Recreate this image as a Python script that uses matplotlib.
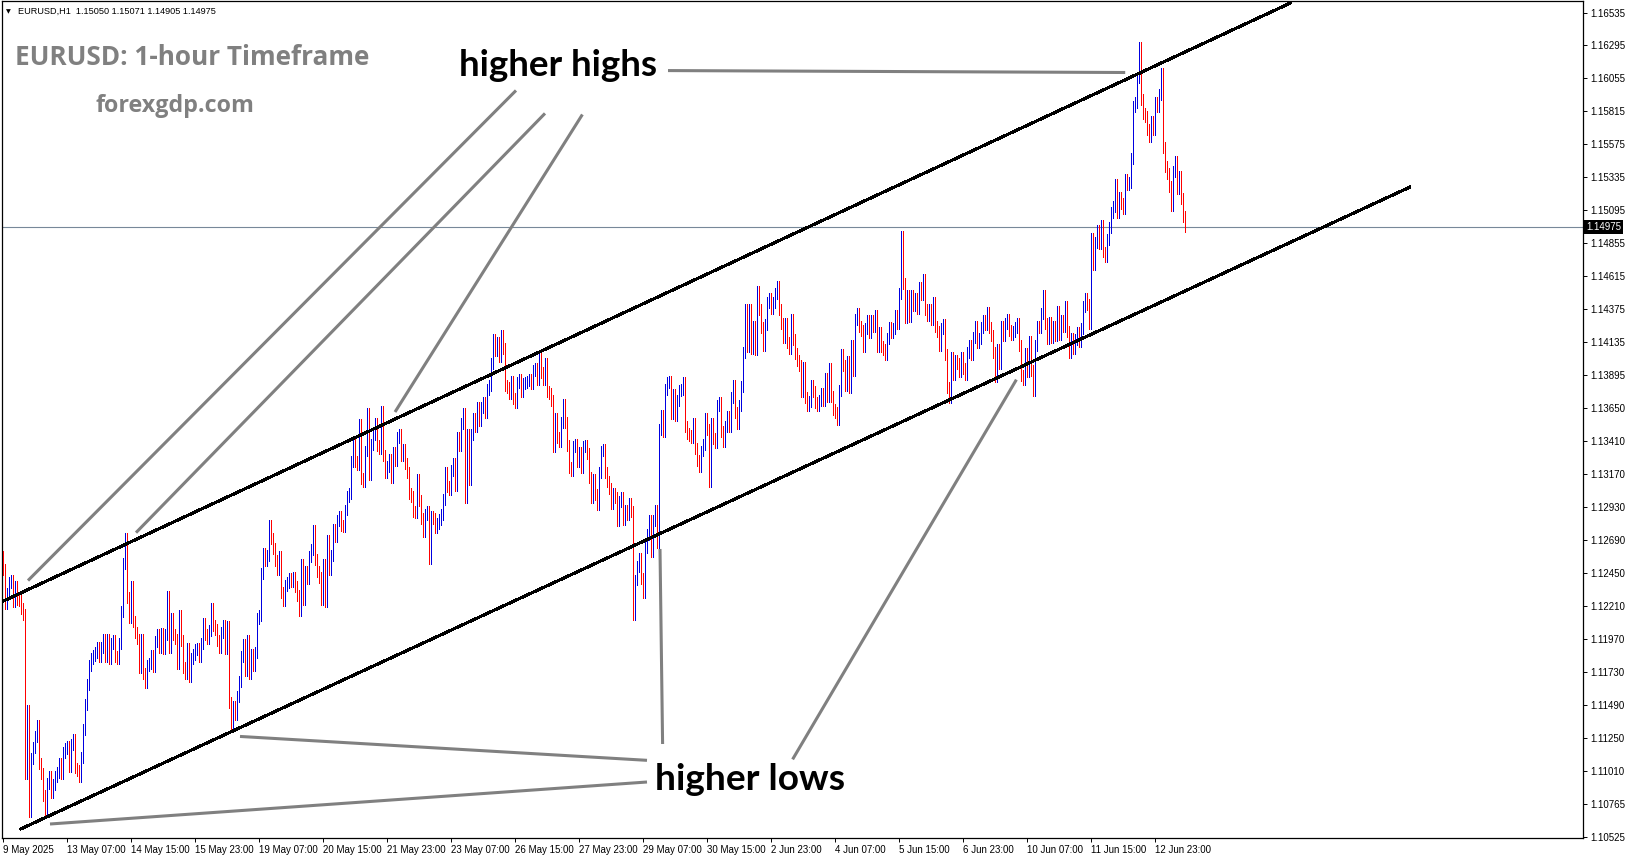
import numpy as np
import matplotlib
matplotlib.use('Agg')
import matplotlib.pyplot as plt
import matplotlib.transforms as mtransforms

# ── EURUSD H1 CLOSES (one list per trading day) ──
first_open = 1.1257
may09 = [1.1248]
may12 = [1.1223, 1.1230, 1.1238, 1.1240, 1.1224, 1.1235, 1.1226, 1.1225, 1.1219, 1.1215, 1.1099, 1.1145,
         1.1071, 1.1110, 1.1118, 1.1126, 1.1134, 1.1106, 1.1099, 1.1083, 1.1072, 1.1092, 1.1097, 1.1085]
may13 = [1.1091, 1.1097, 1.1100, 1.1106, 1.1099, 1.1114, 1.1117, 1.1119, 1.1104, 1.1120, 1.1124, 1.1103,
         1.1101, 1.1097, 1.1111, 1.1131, 1.1149, 1.1164, 1.1178, 1.1183, 1.1185, 1.1187, 1.1191, 1.1184]
may14 = [1.1191, 1.1197, 1.1184, 1.1197, 1.1183, 1.1194, 1.1196, 1.1184, 1.1183, 1.1194, 1.1217, 1.1252,
         1.1270, 1.1227, 1.1213, 1.1235, 1.1210, 1.1202, 1.1197, 1.1176, 1.1197, 1.1172, 1.1165, 1.1178]
may15 = [1.1179, 1.1185, 1.1177, 1.1195, 1.1200, 1.1191, 1.1201, 1.1190, 1.1200, 1.1228, 1.1191, 1.1212,
         1.1200, 1.1197, 1.1179, 1.1214, 1.1196, 1.1176, 1.1172, 1.1190, 1.1170, 1.1183, 1.1186, 1.1189]
may16 = [1.1190, 1.1184, 1.1194, 1.1208, 1.1200, 1.1197, 1.1203, 1.1219, 1.1207, 1.1204, 1.1196, 1.1191,
         1.1202, 1.1207, 1.1190, 1.1206, 1.1151, 1.1134, 1.1148, 1.1142, 1.1155, 1.1166, 1.1184, 1.1193]
may19 = [1.1174, 1.1196, 1.1172, 1.1186, 1.1178, 1.1187, 1.1212, 1.1214, 1.1245, 1.1259, 1.1254, 1.1258,
         1.1280, 1.1270, 1.1263, 1.1254, 1.1248, 1.1257, 1.1231, 1.1225, 1.1236, 1.1238, 1.1241, 1.1239]
may20 = [1.1242, 1.1235, 1.1229, 1.1218, 1.1251, 1.1226, 1.1246, 1.1241, 1.1257, 1.1262, 1.1276, 1.1255,
         1.1246, 1.1242, 1.1226, 1.1251, 1.1224, 1.1269, 1.1248, 1.1258, 1.1277, 1.1272, 1.1283, 1.1286]
may21 = [1.1280, 1.1279, 1.1291, 1.1301, 1.1303, 1.1326, 1.1340, 1.1326, 1.1324, 1.1353, 1.1314, 1.1312,
         1.1334, 1.1361, 1.1317, 1.1339, 1.1346, 1.1354, 1.1338, 1.1336, 1.1363, 1.1331, 1.1318, 1.1323]
may22 = [1.1328, 1.1315, 1.1333, 1.1327, 1.1344, 1.1346, 1.1331, 1.1335, 1.1325, 1.1318, 1.1303, 1.1301,
         1.1290, 1.1289, 1.1313, 1.1298, 1.1285, 1.1275, 1.1288, 1.1290, 1.1256, 1.1286, 1.1285, 1.1278]
may23 = [1.1281, 1.1284, 1.1288, 1.1299, 1.1318, 1.1308, 1.1306, 1.1320, 1.1325, 1.1309, 1.1344, 1.1338,
         1.1354, 1.1361, 1.1300, 1.1346, 1.1313, 1.1346, 1.1358, 1.1352, 1.1366, 1.1356, 1.1366, 1.1369]
may26 = [1.1362, 1.1379, 1.1382, 1.1398, 1.1415, 1.1407, 1.1413, 1.1403, 1.1418, 1.1409, 1.1382, 1.1380,
         1.1376, 1.1385, 1.1372, 1.1369, 1.1384, 1.1386, 1.1377, 1.1383, 1.1384, 1.1385, 1.1386, 1.1383]
may27 = [1.1393, 1.1394, 1.1386, 1.1403, 1.1391, 1.1386, 1.1398, 1.1377, 1.1376, 1.1371, 1.1337, 1.1358,
         1.1344, 1.1341, 1.1355, 1.1368, 1.1355, 1.1338, 1.1322, 1.1320, 1.1337, 1.1339, 1.1326, 1.1333]
may28 = [1.1322, 1.1337, 1.1338, 1.1332, 1.1315, 1.1300, 1.1313, 1.1302, 1.1295, 1.1318, 1.1334, 1.1335,
         1.1318, 1.1312, 1.1307, 1.1296, 1.1303, 1.1300, 1.1283, 1.1297, 1.1300, 1.1284, 1.1291, 1.1288]
may29 = [1.1296, 1.1290, 1.1215, 1.1240, 1.1250, 1.1256, 1.1241, 1.1231, 1.1264, 1.1273, 1.1283, 1.1261,
         1.1283, 1.1291, 1.1267, 1.1350, 1.1360, 1.1348, 1.1379, 1.1384, 1.1385, 1.1361, 1.1375, 1.1360]
may30 = [1.1371, 1.1378, 1.1379, 1.1384, 1.1352, 1.1347, 1.1345, 1.1344, 1.1354, 1.1336, 1.1327, 1.1323,
         1.1334, 1.1339, 1.1358, 1.1350, 1.1312, 1.1354, 1.1343, 1.1340, 1.1367, 1.1369, 1.1348, 1.1341]
jun02 = [1.1352, 1.1359, 1.1352, 1.1373, 1.1382, 1.1362, 1.1354, 1.1367, 1.1381, 1.1406, 1.1437, 1.1410,
         1.1437, 1.1409, 1.1425, 1.1408, 1.1450, 1.1437, 1.1424, 1.1411, 1.1426, 1.1442, 1.1445, 1.1438]
jun03 = [1.1442, 1.1449, 1.1454, 1.1437, 1.1427, 1.1417, 1.1427, 1.1413, 1.1409, 1.1430, 1.1415, 1.1405,
         1.1400, 1.1396, 1.1377, 1.1395, 1.1373, 1.1367, 1.1370, 1.1382, 1.1377, 1.1369, 1.1367, 1.1371]
jun04 = [1.1376, 1.1371, 1.1387, 1.1374, 1.1394, 1.1374, 1.1364, 1.1362, 1.1357, 1.1378, 1.1404, 1.1396,
         1.1382, 1.1399, 1.1380, 1.1411, 1.1393, 1.1430, 1.1434, 1.1425, 1.1422, 1.1410, 1.1423, 1.1429]
jun05 = [1.1420, 1.1429, 1.1425, 1.1433, 1.1410, 1.1420, 1.1410, 1.1408, 1.1404, 1.1416, 1.1424, 1.1420,
         1.1423, 1.1433, 1.1427, 1.1449, 1.1490, 1.1456, 1.1431, 1.1447, 1.1432, 1.1447, 1.1440, 1.1445]
jun06 = [1.1438, 1.1453, 1.1448, 1.1459, 1.1437, 1.1433, 1.1437, 1.1430, 1.1442, 1.1425, 1.1421, 1.1411,
         1.1423, 1.1426, 1.1404, 1.1380, 1.1373, 1.1402, 1.1390, 1.1400, 1.1398, 1.1392, 1.1402, 1.1394]
jun09 = [1.1390, 1.1406, 1.1411, 1.1404, 1.1417, 1.1425, 1.1413, 1.1416, 1.1424, 1.1429, 1.1426, 1.1435,
         1.1424, 1.1418, 1.1406, 1.1388, 1.1408, 1.1398, 1.1425, 1.1418, 1.1427, 1.1430, 1.1422, 1.1419]
jun10 = [1.1421, 1.1424, 1.1427, 1.1411, 1.1389, 1.1386, 1.1405, 1.1392, 1.1414, 1.1393, 1.1378, 1.1411,
         1.1425, 1.1424, 1.1434, 1.1447, 1.1427, 1.1416, 1.1428, 1.1417, 1.1425, 1.1418, 1.1436, 1.1419]
jun11 = [1.1429, 1.1425, 1.1439, 1.1421, 1.1406, 1.1416, 1.1409, 1.1415, 1.1420, 1.1414, 1.1423, 1.1439,
         1.1445, 1.1441, 1.1427, 1.1489, 1.1470, 1.1486, 1.1495, 1.1485, 1.1498, 1.1479, 1.1476, 1.1488]
jun12 = [1.1497, 1.1508, 1.1512, 1.1528, 1.1508, 1.1519, 1.1514, 1.1511, 1.1532, 1.1528, 1.1530, 1.1547,
         1.1585, 1.1588, 1.1606, 1.1628, 1.1590, 1.1580, 1.1578, 1.1568, 1.1563, 1.1574, 1.1568, 1.1588]
jun13 = [1.1585, 1.1594, 1.1609, 1.1555, 1.1541, 1.1536, 1.1527, 1.1513, 1.1538, 1.1545, 1.1525, 1.1534,
         1.1518, 1.1505, 1.14975]

days = [may09, may12, may13, may14, may15, may16, may19, may20, may21, may22, may23,
        may26, may27, may28, may29, may30, jun02, jun03, jun04, jun05, jun06,
        jun09, jun10, jun11, jun12, jun13]

header = "EURUSD,H1  1.15050 1.15071 1.14905 1.14975"
last_price = 1.14975

x_labels = ['9 May 2025', '13 May 07:00', '14 May 15:00', '15 May 23:00', '19 May 07:00',
            '20 May 15:00', '21 May 23:00', '23 May 07:00', '26 May 15:00', '27 May 23:00',
            '29 May 07:00', '30 May 15:00', '2 Jun 23:00', '4 Jun 07:00', '5 Jun 15:00',
            '6 Jun 23:00', '10 Jun 07:00', '11 Jun 15:00', '12 Jun 23:00']
bars_per_label = 32

y_ticks = [1.16535, 1.16295, 1.16055, 1.15815, 1.15575, 1.15335, 1.15095, 1.14855, 1.14615,
           1.14375, 1.14135, 1.13895, 1.13650, 1.13410, 1.13170, 1.12930, 1.12690, 1.12450,
           1.12210, 1.11970, 1.11730, 1.11490, 1.11250, 1.11010, 1.10765, 1.10525]

# ── TRENDLINES drawn on the chart (bar index, price) ─────────────
upper_channel = [(0.0, 1.12246), (643.4, 1.16603)]
lower_channel = [(8.8, 1.10586), (703.2, 1.15262)]
hh_pointers = [
    [(332.4, 1.16112), (561.0, 1.16098)],
    [(256.4, 1.15967), (12.4, 1.12396)],
    [(270.9, 1.15800), (66.4, 1.12745)],
    [(289.6, 1.15792), (195.9, 1.13624)],
]
hl_pointers = [
    [(118.4, 1.11260), (321.9, 1.11086)],
    [(23.4, 1.10622), (321.9, 1.10928)],
    [(328.4, 1.12626), (329.7, 1.11205)],
    [(394.7, 1.11093), (506.6, 1.13860)],
]

# ── STYLE ────────────────────────────────────────────────────────
W, H = 1631, 861
bull = '#0000E0'
bear = '#FF0000'
grey = '#808080'
wick = 0.0004
plt.rcParams['font.family'] = ['Liberation Sans', 'DejaVu Sans']

closes = np.array([c for d in days for c in d])
opens = np.r_[first_open, closes[:-1]]
bar_idx = np.arange(len(closes))
tops = np.maximum(opens, closes) + wick
bottoms = np.minimum(opens, closes) - wick
is_up = closes >= opens

fig = plt.figure(figsize=(W / 100, H / 100), dpi=100)
ax = fig.add_axes([2 / W, 1 - 838 / H, 1581 / W, 837 / H])
ax.set_xlim(-0.6, 789.9)
ax.set_ylim(1.10520, 1.16619)

# current price line
ax.axhline(last_price, color='#778899', linewidth=0.8, zorder=1)

# OHLC bars, one pixel wide, no smoothing (terminal look)
ax.vlines(bar_idx[is_up], bottoms[is_up], tops[is_up], colors=bull,
          linewidth=0.68, antialiased=False, zorder=3)
ax.vlines(bar_idx[~is_up], bottoms[~is_up], tops[~is_up], colors=bear,
          linewidth=0.68, antialiased=False, zorder=3)

# channel
for line in [upper_channel, lower_channel]:
    xs, ys = zip(*line)
    ax.plot(xs, ys, color='black', linewidth=1.5, antialiased=False, zorder=4)

# pointer lines
for line in hh_pointers + hl_pointers:
    xs, ys = zip(*line)
    ax.plot(xs, ys, color=grey, linewidth=2.2, solid_capstyle='butt', zorder=4)

# axes
for sp in ax.spines.values():
    sp.set_linewidth(0.9)
    sp.set_color('black')
ax.yaxis.tick_right()
ax.set_yticks(y_ticks)
ax.set_yticklabels([f'{v:.5f}' for v in y_ticks])
ax.tick_params(axis='y', direction='out', length=3, width=0.7, pad=2, labelsize=7)
ax.set_xticks(np.arange(len(x_labels)) * bars_per_label)
ax.set_xticklabels(x_labels, ha='left')
ax.tick_params(axis='x', direction='out', length=3, width=0.7, pad=2, labelsize=7)

trans = mtransforms.blended_transform_factory(ax.transAxes, ax.transData)
ax.text(1 + 3 / 1581, last_price, f'{last_price:.5f}', transform=trans, ha='left', va='center',
        fontsize=7, color='white', clip_on=False, zorder=6,
        bbox=dict(boxstyle='square,pad=0.2', fc='black', ec='none'))

# ── TEXTS ────────────────────────────────────────────────────────
fig.text(6 / W, 1 - 13 / H, '\u25bc', fontsize=4.5, family='DejaVu Sans', ha='left', va='baseline')
hdr = fig.text(18 / W, 1 - 14 / H, header, fontsize=7, ha='left', va='baseline')
title = fig.text(15 / W, 1 - 65 / H, 'EURUSD: 1-hour Timeframe', family='Open Sans',
                 weight='bold', color=grey, fontsize=19, ha='left', va='baseline')
site = fig.text(96 / W, 1 - 111.7 / H, 'forexgdp.com', family='Open Sans',
                weight='bold', color=grey, fontsize=16, ha='left', va='baseline')
hh = fig.text(459 / W, 1 - 75.5 / H, 'higher highs', family='Lato', weight='bold',
              color='black', fontsize=24, ha='left', va='baseline')
hl = fig.text(655 / W, 1 - 790.5 / H, 'higher lows', family='Lato', weight='bold',
              color='black', fontsize=24, ha='left', va='baseline')

# size the texts to the widths seen on the chart
targets = [(hdr, 200), (title, 355), (site, 159), (hh, 198), (hl, 190)]
for _ in range(2):
    fig.canvas.draw()
    for txt, w_px in targets:
        w = txt.get_window_extent().width
        txt.set_fontsize(txt.get_fontsize() * w_px / w)

fig.savefig('out.png', dpi=100, facecolor='white')
print('saved out.png', len(closes), 'bars')
